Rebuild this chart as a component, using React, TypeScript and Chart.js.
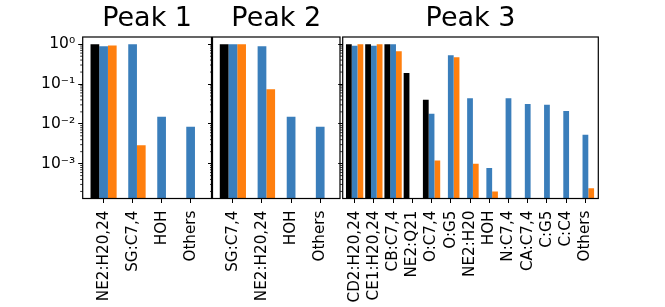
import React, { useEffect, useRef } from "react";
import { Chart, registerables } from "chart.js";

Chart.register(...registerables);

const titles = ["Peak 1", "Peak 2", "Peak 3"];

const peak1Labels = ["NE2:H20,24", "SG:C7,4", "HOH", "Others"];
const peak1Black = [1.0, null, null, null];
const peak1Blue = [0.89, 1.0, 0.0151, 0.0084];
const peak1Orange = [0.93, 0.0029, null, null];

const peak2Labels = ["SG:C7,4", "NE2:H20,24", "HOH", "Others"];
const peak2Black = [1.0, null, null, null];
const peak2Blue = [1.0, 0.89, 0.0151, 0.0084];
const peak2Orange = [1.0, 0.074, null, null];

const peak3Labels = [
  "CD2:H20,24", "CE1:H20,24", "CB:C7,4", "NE2:Q21", "O:C7,4", "O:G5",
  "NE2:H20", "HOH", "N:C7,4", "CA:C7,4", "C:G5", "C:C4", "Others",
];
const peak3Black = [1.0, 1.0, 1.0, 0.188, 0.04, null, null, null, null, null, null, null, null];
const peak3Blue = [0.91, 0.91, 1.0, null, 0.018, 0.53, 0.044, 0.00078, 0.044, 0.0316, 0.03, 0.021, 0.0053];
const peak3Orange = [1.0, 1.0, 0.67, null, 0.0012, 0.47, 0.001, 0.0002, null, null, null, null, 0.00024];

const yTickValues = [1e-3, 1e-2, 1e-1, 1];
const yTickLabels = ["10⁻³", "10⁻²", "10⁻¹", "10⁰"];
const yMin = 1.33e-4;
const yMax = 1.52;

const seriesColors = ["#000000", "#3a7ebb", "#ff7f0e"];
const FONT = "'DejaVu Sans', sans-serif";

type PanelCfg = {
  title: string;
  labels: string[];
  series: (number | null)[][];
  xMin: number;
  xMax: number;
  showYLabels: boolean;
  yAxisWidth: number;
  padRight: number;
};

const framePlugin = {
  id: "frameAndMinor",
  afterDraw(chart: any) {
    const { ctx, chartArea } = chart;
    const y = chart.scales.y;
    ctx.save();
    ctx.strokeStyle = "#000";
    ctx.lineWidth = 0.8;
    for (let e = -5; e <= 1; e++) {
      for (let m = 2; m <= 9; m++) {
        const v = m * Math.pow(10, e);
        if (v < y.min || v > y.max) continue;
        const py = y.getPixelForValue(v);
        ctx.beginPath();
        ctx.moveTo(chartArea.left - 2.5, py);
        ctx.lineTo(chartArea.left, py);
        ctx.stroke();
      }
    }
    ctx.lineWidth = 1.2;
    ctx.strokeRect(chartArea.left, chartArea.top, chartArea.right - chartArea.left, chartArea.bottom - chartArea.top);
    ctx.restore();
  },
};

function buildChart(canvas: HTMLCanvasElement, cfg: PanelCfg) {
  const datasets = cfg.series.map((vals, si) => ({
    label: "s" + si,
    data: vals.map((v, i) => ({ x: i, y: v })),
    backgroundColor: seriesColors[si],
    borderWidth: 0,
    categoryPercentage: 0.9,
    barPercentage: 1.0,
  }));
  return new Chart(canvas, {
    type: "bar",
    data: { datasets: datasets as any },
    plugins: [framePlugin],
    options: {
      animation: false,
      responsive: false,
      devicePixelRatio: 1,
      layout: { padding: { left: 0, right: cfg.padRight, top: 0, bottom: 0 } },
      plugins: {
        legend: { display: false },
        tooltip: { enabled: false },
        title: {
          display: true,
          text: cfg.title,
          fullSize: false,
          color: "#000",
          font: { family: FONT, size: 27, weight: "normal" as any, lineHeight: 1.2 },
          padding: { top: 2.5, bottom: 2.1 },
        },
      },
      scales: {
        x: {
          type: "linear",
          offset: false,
          min: cfg.xMin,
          max: cfg.xMax,
          afterBuildTicks: (scale: any) => {
            scale.ticks = cfg.labels.map((_, i) => ({ value: i }));
          },
          afterFit: (scale: any) => {
            scale.height = 108.5;
            scale.paddingLeft = 0;
            scale.paddingRight = 0;
          },
          border: { display: false },
          grid: {
            display: true,
            drawOnChartArea: false,
            drawTicks: true,
            tickLength: 4.5,
            tickWidth: 1,
            tickColor: "#000",
            offset: false,
          },
          ticks: {
            autoSkip: false,
            maxRotation: 90,
            minRotation: 90,
            padding: 7.5,
            color: "#000",
            font: { family: FONT, size: 15.2 },
            callback: (v: any) => cfg.labels[Math.round(Number(v))] ?? "",
          },
        },
        y: {
          type: "logarithmic",
          min: yMin,
          max: yMax,
          afterBuildTicks: (scale: any) => {
            scale.ticks = yTickValues.map((v) => ({ value: v, major: true }));
          },
          afterFit: (scale: any) => {
            scale.width = cfg.yAxisWidth;
            scale.paddingTop = 0;
            scale.paddingBottom = 0;
          },
          border: { display: false },
          grid: {
            display: true,
            drawOnChartArea: false,
            drawTicks: true,
            tickLength: 4.5,
            tickWidth: 1,
            tickColor: "#000",
          },
          ticks: {
            display: cfg.showYLabels,
            padding: 3,
            color: "#000",
            font: { family: FONT, size: 15.5 },
            callback: (v: any) => {
              const idx = yTickValues.findIndex((t) => Math.abs(Math.log10(t) - Math.log10(Number(v))) < 1e-6);
              return idx >= 0 ? yTickLabels[idx] : "";
            },
          },
        },
      },
    } as any,
  });
}

const panels: (PanelCfg & { left: number; width: number })[] = [
  {
    title: titles[0], labels: peak1Labels, series: [peak1Black, peak1Blue, peak1Orange],
    xMin: -0.72, xMax: 3.72, showYLabels: true, yAxisWidth: 82.7, padRight: 4.5, left: 0, width: 216,
  },
  {
    title: titles[1], labels: peak2Labels, series: [peak2Black, peak2Blue, peak2Orange],
    xMin: -0.7, xMax: 3.68, showYLabels: false, yAxisWidth: 6.5, padRight: 4, left: 206, width: 138,
  },
  {
    title: titles[2], labels: peak3Labels, series: [peak3Black, peak3Blue, peak3Orange],
    xMin: -0.62, xMax: 12.67, showYLabels: false, yAxisWidth: 5.7, padRight: 4.7, left: 337, width: 266,
  },
];

function Panel({ cfg }: { cfg: PanelCfg & { left: number; width: number } }) {
  const ref = useRef<HTMLCanvasElement | null>(null);
  useEffect(() => {
    if (!ref.current) return;
    const chart = buildChart(ref.current, cfg);
    return () => chart.destroy();
  }, []);
  return (
    <canvas
      ref={ref}
      width={cfg.width}
      height={307}
      style={{ position: "absolute", left: cfg.left, top: 0, width: cfg.width, height: 307 }}
    />
  );
}

export default function App() {
  return (
    <div style={{ position: "fixed", left: 0, top: 0, width: 665, height: 307, background: "#fff" }}>
      {panels.map((p, i) => (
        <Panel key={i} cfg={p} />
      ))}
    </div>
  );
}
